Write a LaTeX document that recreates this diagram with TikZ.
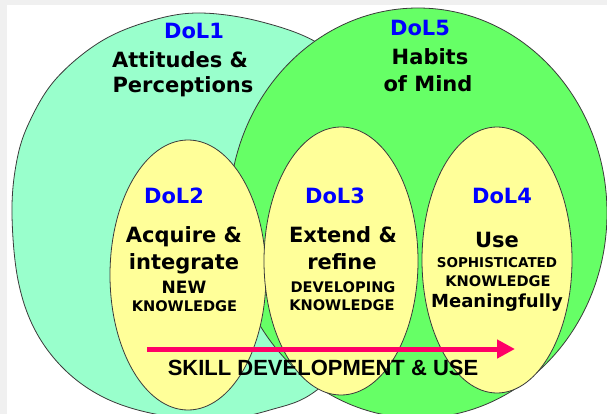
\documentclass[tikz,border=0pt]{standalone}
\usepackage{fontspec}
\setmainfont{DejaVu Sans}
\newfontfamily\arialb{Liberation Sans}
\usetikzlibrary{arrows.meta}
\definecolor{aqua}{HTML}{99FFCC}
\definecolor{lgreen}{HTML}{66FF66}
\definecolor{lyellow}{HTML}{FFFF99}
\definecolor{dolblue}{HTML}{0000FF}
\definecolor{arrowpink}{HTML}{FF0066}
\definecolor{edgegray}{HTML}{3A3A3A}
\begin{document}
\begin{tikzpicture}[x=1pt,y=-1pt,
  blob/.style={draw=edgegray, line width=0.8pt},
  dollabel/.style={anchor=base, inner sep=0pt, text=dolblue, font=\bfseries\fontsize{21}{21}\selectfont},
  bigtext/.style={anchor=base, inner sep=0pt, font=\bfseries\fontsize{21}{21}\selectfont},
  newtext/.style={anchor=base, inner sep=0pt, font=\bfseries\fontsize{17}{17}\selectfont},
  smalltext/.style={anchor=base, inner sep=0pt, font=\bfseries\fontsize{14.6}{14.6}\selectfont},
  tinytext/.style={anchor=base, inner sep=0pt, font=\bfseries\fontsize{13.5}{13.5}\selectfont},
  meantext/.style={anchor=base, inner sep=0pt, font=\bfseries\fontsize{18}{18}\selectfont},
  skilltext/.style={anchor=base, inner sep=0pt, font=\arialb\bfseries\fontsize{22}{22}\selectfont},
  flowarrow/.style={draw=arrowpink, line width=5pt, -{Triangle[length=18pt,width=18pt]}}
]
\useasboundingbox (0,0) rectangle (607,414);
\fill[gray!12] (0,0) rectangle (607,414);
\fill[white] (7,5) rectangle (607,414);

% DoL1 region
\draw[blob, fill=aqua] plot[smooth cycle, tension=0.6] coordinates {(200,13) (262,22) (321,45) (368,90) (395,170) (397,260) (375,330) (317,390) (270,410) (215,420) (155,414) (105,398) (65,370) (35,330) (18,280) (12,215) (16,165) (28,125) (55,80) (100,42) (150,21)};
% DoL5 region
\draw[blob, fill=lgreen] (418,213) ellipse [x radius=189, y radius=205];
% DoL2, DoL3, DoL4
\draw[blob, fill=lyellow] (188,275) ellipse [x radius=78, y radius=135];
\draw[blob, fill=lyellow] (341,261) ellipse [x radius=77, y radius=134];
\draw[blob, fill=lyellow] (497,260) ellipse [x radius=75, y radius=133];

\node[dollabel] (dol1) at (194,39) {DoL1};
\node[bigtext] (att) at (180,68) {Attitudes \&};
\node[bigtext] (perc) at (183,93) {Perceptions};
\node[dollabel] (dol5) at (420,36) {DoL5};
\node[bigtext] (hab) at (430,65) {Habits};
\node[bigtext] (mind) at (428,92) {of Mind};

\node[dollabel] (dol2) at (174,203) {DoL2};
\node[bigtext] (acq) at (184,242) {Acquire \&};
\node[bigtext] (integ) at (184,269) {integrate};
\node[newtext] (new) at (184,293) {NEW};
\node[smalltext] (kn2) at (184.5,311) {KNOWLEDGE};

\node[dollabel] (dol3) at (335,203) {DoL3};
\node[bigtext] (ext) at (343,242) {Extend \&};
\node[bigtext] (ref) at (342,269) {refine};
\node[smalltext] (dev) at (343,292) {DEVELOPING};
\node[smalltext] (kn3) at (342,310) {KNOWLEDGE};

\node[dollabel] (dol4) at (502,203) {DoL4};
\node[bigtext] (use) at (497,247) {Use};
\node[tinytext] (soph) at (497,267) {SOPHISTICATED};
\node[smalltext] (kn4) at (498,286) {KNOWLEDGE};
\node[meantext] (mean) at (497,307) {Meaningfully};

\coordinate (arrstart) at (147,349);
\coordinate (arrend) at (515,349);
\draw[flowarrow] (arrstart) -- (arrend);
\node[skilltext] (skill) at (323,375) {SKILL DEVELOPMENT \& USE};
\end{tikzpicture}
\end{document}
